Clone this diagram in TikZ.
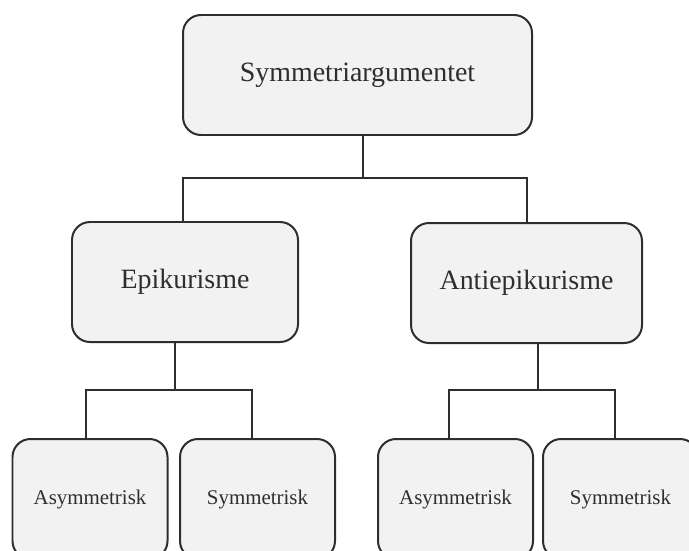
\documentclass[tikz,border=0pt]{standalone}
\usepackage{fontspec}
\setmainfont{Liberation Serif}
\definecolor{boxfill}{HTML}{F2F2F2}
\definecolor{boxline}{HTML}{2E2E2E}

\begin{document}
\begin{tikzpicture}[
		box/.style={draw=boxline,fill=boxfill,line width=1.134pt,rounded corners=0.36cm,
			text=boxline,minimum height=2.4cm,inner sep=0pt},
		big/.style={box,font=\fontsize{15.9}{19}\selectfont},
		small/.style={box,font=\fontsize{11.9}{14}\selectfont,minimum width=3.1cm},
		link/.style={draw=boxline,line width=1.134pt}]
		\useasboundingbox (0,0) rectangle (13.78,-11);
		\clip (0,0) rectangle (13.78,-11);
		
		\node[big,minimum width=6.98cm] (top)at(7.15,-1.5) {Symmetriargumentet};
		\node[big,minimum width=4.52cm] (epi)at(3.70,-5.64) {Epikurisme};
		\node[big,minimum width=4.62cm] (anti)at(10.53,-5.66) {Antiepikurisme};
		\node[small] (asym1)at(1.80,-9.98) {Asymmetrisk};
		\node[small] (sym1)at(5.15,-9.98) {Symmetrisk};
		\node[small] (asym2)at(9.11,-9.98) {Asymmetrisk};
		\node[small] (sym2)at(12.41,-9.98) {Symmetrisk};
		
		\coordinate (b0) at (7.26,-3.56);
		\coordinate (b1) at (3.50,-7.80);
		\coordinate (b2) at (10.76,-7.80);
		
		\draw[link] (top.south -| b0) -- (b0);
		\draw[link] ([xshift=-0.04cm]epi.north) |- (b0) -| (anti.north);
		\draw[link] (epi.south -| b1) -- (b1);
		\draw[link] ([xshift=-0.08cm]asym1.north) |- (b1) -| ([xshift=-0.11cm]sym1.north);
		\draw[link] (anti.south -| b2) -- (b2);
		\draw[link] ([xshift=-0.13cm]asym2.north) |- (b2) -| ([xshift=-0.11cm]sym2.north);
	\end{tikzpicture}
\end{document}
